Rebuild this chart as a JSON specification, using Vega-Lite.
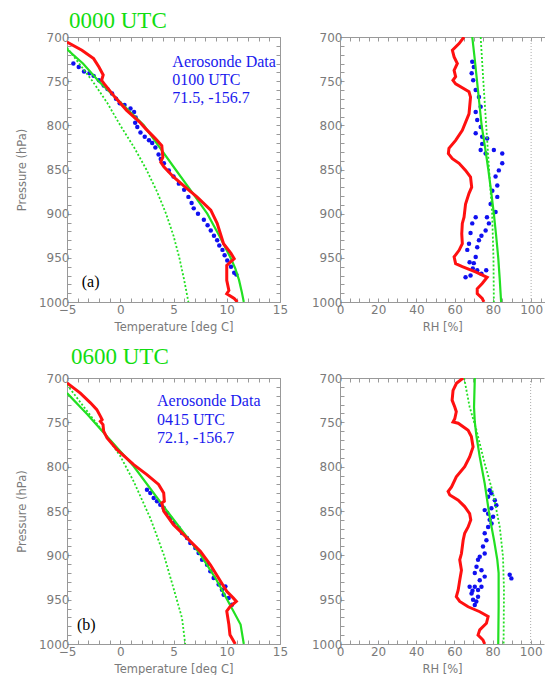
{
"$schema": "https://vega.github.io/schema/vega-lite/v6.json",
"background": "white",
"padding": {"left": 16, "top": 10, "right": 0, "bottom": 0},
"datasets": {
"prof": [
{"panel":"aT","series":"obs","value":-5,"p":705.7},{"panel":"aT","series":"obs","value":-3.6,"p":715},{"panel":"aT","series":"obs","value":-2.5,"p":724.5},{"panel":"aT","series":"obs","value":-2.0,"p":734},{"panel":"aT","series":"obs","value":-1.6,"p":743},{"panel":"aT","series":"obs","value":-1.75,"p":749},{"panel":"aT","series":"obs","value":-1.5,"p":753},{"panel":"aT","series":"obs","value":-0.5,"p":768},{"panel":"aT","series":"obs","value":0.6,"p":783},{"panel":"aT","series":"obs","value":1.8,"p":796},{"panel":"aT","series":"obs","value":2.4,"p":804},{"panel":"aT","series":"obs","value":3.3,"p":815},{"panel":"aT","series":"obs","value":3.9,"p":823},{"panel":"aT","series":"obs","value":4.0,"p":836},{"panel":"aT","series":"obs","value":3.8,"p":841.5},{"panel":"aT","series":"obs","value":4.1,"p":847},{"panel":"aT","series":"obs","value":5.0,"p":858.5},{"panel":"aT","series":"obs","value":6.3,"p":872},{"panel":"aT","series":"obs","value":7.2,"p":881},{"panel":"aT","series":"obs","value":8.5,"p":896},{"panel":"aT","series":"obs","value":9.1,"p":911},{"panel":"aT","series":"obs","value":9.7,"p":934},{"panel":"aT","series":"obs","value":10.4,"p":945},{"panel":"aT","series":"obs","value":10.7,"p":951},{"panel":"aT","series":"obs","value":10.0,"p":958.5},{"panel":"aT","series":"obs","value":10.0,"p":975.5},{"panel":"aT","series":"obs","value":10.2,"p":987},{"panel":"aT","series":"obs","value":10.0,"p":990.6},{"panel":"aT","series":"obs","value":10.7,"p":996},{"panel":"aT","series":"obs","value":11.0,"p":1000},
{"panel":"aT","series":"model","value":-5,"p":714},{"panel":"aT","series":"model","value":-3.5,"p":730},{"panel":"aT","series":"model","value":-2.02,"p":750},{"panel":"aT","series":"model","value":0.1,"p":775},{"panel":"aT","series":"model","value":2.21,"p":800},{"panel":"aT","series":"model","value":3.7,"p":825},{"panel":"aT","series":"model","value":5.19,"p":850},{"panel":"aT","series":"model","value":6.7,"p":875},{"panel":"aT","series":"model","value":8.17,"p":900},{"panel":"aT","series":"model","value":9.3,"p":925},{"panel":"aT","series":"model","value":10.36,"p":950},{"panel":"aT","series":"model","value":10.8,"p":962},{"panel":"aT","series":"model","value":11.15,"p":975},{"panel":"aT","series":"model","value":11.4,"p":988},{"panel":"aT","series":"model","value":11.6,"p":1000},
{"panel":"aT","series":"dew","value":-5,"p":712},{"panel":"aT","series":"dew","value":-2.6,"p":750},{"panel":"aT","series":"dew","value":-1.2,"p":775},{"panel":"aT","series":"dew","value":0.0,"p":800},{"panel":"aT","series":"dew","value":1.3,"p":825},{"panel":"aT","series":"dew","value":2.45,"p":850},{"panel":"aT","series":"dew","value":3.45,"p":875},{"panel":"aT","series":"dew","value":4.3,"p":900},{"panel":"aT","series":"dew","value":5.0,"p":925},{"panel":"aT","series":"dew","value":5.55,"p":950},{"panel":"aT","series":"dew","value":6.0,"p":975},{"panel":"aT","series":"dew","value":6.4,"p":1000},
{"panel":"aT","series":"aero","value":-4.4,"p":730},{"panel":"aT","series":"aero","value":-3.9,"p":734},{"panel":"aT","series":"aero","value":-3.4,"p":739},{"panel":"aT","series":"aero","value":-2.9,"p":741},{"panel":"aT","series":"aero","value":-2.5,"p":744},{"panel":"aT","series":"aero","value":-2.0,"p":749},{"panel":"aT","series":"aero","value":-1.55,"p":755},{"panel":"aT","series":"aero","value":-1.2,"p":759},{"panel":"aT","series":"aero","value":-0.77,"p":764},{"panel":"aT","series":"aero","value":-0.4,"p":770},{"panel":"aT","series":"aero","value":-0.05,"p":775},{"panel":"aT","series":"aero","value":0.4,"p":777},{"panel":"aT","series":"aero","value":0.96,"p":781},{"panel":"aT","series":"aero","value":1.3,"p":785},{"panel":"aT","series":"aero","value":1.45,"p":791},{"panel":"aT","series":"aero","value":1.4,"p":797},{"panel":"aT","series":"aero","value":1.6,"p":802},{"panel":"aT","series":"aero","value":1.9,"p":808},{"panel":"aT","series":"aero","value":2.3,"p":813},{"panel":"aT","series":"aero","value":2.7,"p":817},{"panel":"aT","series":"aero","value":3.0,"p":820},{"panel":"aT","series":"aero","value":3.3,"p":825},{"panel":"aT","series":"aero","value":3.6,"p":833},{"panel":"aT","series":"aero","value":3.8,"p":838},{"panel":"aT","series":"aero","value":4.1,"p":843},{"panel":"aT","series":"aero","value":4.56,"p":851},{"panel":"aT","series":"aero","value":5.0,"p":858},{"panel":"aT","series":"aero","value":5.5,"p":866},{"panel":"aT","series":"aero","value":6.0,"p":873},{"panel":"aT","series":"aero","value":6.4,"p":881},{"panel":"aT","series":"aero","value":6.7,"p":888},{"panel":"aT","series":"aero","value":6.9,"p":894},{"panel":"aT","series":"aero","value":7.3,"p":900},{"panel":"aT","series":"aero","value":7.85,"p":907},{"panel":"aT","series":"aero","value":8.2,"p":913},{"panel":"aT","series":"aero","value":8.5,"p":919},{"panel":"aT","series":"aero","value":8.8,"p":925},{"panel":"aT","series":"aero","value":9.1,"p":930},{"panel":"aT","series":"aero","value":9.3,"p":936},{"panel":"aT","series":"aero","value":9.6,"p":941},{"panel":"aT","series":"aero","value":9.8,"p":947},{"panel":"aT","series":"aero","value":10.05,"p":953},{"panel":"aT","series":"aero","value":10.4,"p":960},{"panel":"aT","series":"aero","value":10.7,"p":967},{"panel":"aT","series":"aero","value":10.9,"p":969},
{"panel":"aRH","series":"obs","value":64.9,"p":700},{"panel":"aRH","series":"obs","value":62.3,"p":707.5},{"panel":"aRH","series":"obs","value":58.8,"p":715},{"panel":"aRH","series":"obs","value":59.7,"p":722.6},{"panel":"aRH","series":"obs","value":61.4,"p":730},{"panel":"aRH","series":"obs","value":59.7,"p":737.7},{"panel":"aRH","series":"obs","value":60.5,"p":745},{"panel":"aRH","series":"obs","value":59.1,"p":749},{"panel":"aRH","series":"obs","value":60.5,"p":753},{"panel":"aRH","series":"obs","value":67.5,"p":762},{"panel":"aRH","series":"obs","value":68.3,"p":768},{"panel":"aRH","series":"obs","value":67.5,"p":787},{"panel":"aRH","series":"obs","value":64,"p":805.7},{"panel":"aRH","series":"obs","value":60.5,"p":817},{"panel":"aRH","series":"obs","value":57,"p":826},{"panel":"aRH","series":"obs","value":56.7,"p":832},{"panel":"aRH","series":"obs","value":58.8,"p":837.7},{"panel":"aRH","series":"obs","value":62.3,"p":843},{"panel":"aRH","series":"obs","value":65.7,"p":851},{"panel":"aRH","series":"obs","value":68.3,"p":858.5},{"panel":"aRH","series":"obs","value":68.9,"p":870},{"panel":"aRH","series":"obs","value":67.5,"p":877},{"panel":"aRH","series":"obs","value":65.7,"p":889},{"panel":"aRH","series":"obs","value":64.9,"p":904},{"panel":"aRH","series":"obs","value":64,"p":911},{"panel":"aRH","series":"obs","value":63.7,"p":922.6},{"panel":"aRH","series":"obs","value":64,"p":934},{"panel":"aRH","series":"obs","value":62.3,"p":941.5},{"panel":"aRH","series":"obs","value":59.7,"p":949},{"panel":"aRH","series":"obs","value":60.5,"p":956.6},{"panel":"aRH","series":"obs","value":64,"p":960},{"panel":"aRH","series":"obs","value":70.9,"p":966},{"panel":"aRH","series":"obs","value":77,"p":972},{"panel":"aRH","series":"obs","value":74.4,"p":979},{"panel":"aRH","series":"obs","value":71.8,"p":985},{"panel":"aRH","series":"obs","value":71.8,"p":990.6},{"panel":"aRH","series":"obs","value":74.4,"p":996},{"panel":"aRH","series":"obs","value":75.3,"p":1000},
{"panel":"aRH","series":"model","value":69.2,"p":700},{"panel":"aRH","series":"model","value":70.5,"p":725},{"panel":"aRH","series":"model","value":71.7,"p":750},{"panel":"aRH","series":"model","value":72.9,"p":775},{"panel":"aRH","series":"model","value":74.1,"p":800},{"panel":"aRH","series":"model","value":75.9,"p":825},{"panel":"aRH","series":"model","value":77.6,"p":850},{"panel":"aRH","series":"model","value":79.1,"p":875},{"panel":"aRH","series":"model","value":80.5,"p":900},{"panel":"aRH","series":"model","value":81.7,"p":925},{"panel":"aRH","series":"model","value":82.8,"p":950},{"panel":"aRH","series":"model","value":83.6,"p":975},{"panel":"aRH","series":"model","value":84.3,"p":1000},
{"panel":"aRH","series":"dew","value":73.6,"p":700},{"panel":"aRH","series":"dew","value":75,"p":750},{"panel":"aRH","series":"dew","value":76.5,"p":800},{"panel":"aRH","series":"dew","value":78,"p":850},{"panel":"aRH","series":"dew","value":79.6,"p":900},{"panel":"aRH","series":"dew","value":80.3,"p":950},{"panel":"aRH","series":"dew","value":80.5,"p":1000},
{"panel":"aRH","series":"aero","value":69.2,"p":728},{"panel":"aRH","series":"aero","value":70,"p":734},{"panel":"aRH","series":"aero","value":68.9,"p":741},{"panel":"aRH","series":"aero","value":69.7,"p":749},{"panel":"aRH","series":"aero","value":71,"p":760},{"panel":"aRH","series":"aero","value":72.7,"p":768},{"panel":"aRH","series":"aero","value":73.6,"p":779},{"panel":"aRH","series":"aero","value":71,"p":785},{"panel":"aRH","series":"aero","value":71.8,"p":794},{"panel":"aRH","series":"aero","value":73.6,"p":802},{"panel":"aRH","series":"aero","value":71,"p":809},{"panel":"aRH","series":"aero","value":74.4,"p":813},{"panel":"aRH","series":"aero","value":77,"p":815},{"panel":"aRH","series":"aero","value":74.4,"p":821},{"panel":"aRH","series":"aero","value":73.6,"p":828},{"panel":"aRH","series":"aero","value":76.2,"p":832},{"panel":"aRH","series":"aero","value":80.5,"p":828},{"panel":"aRH","series":"aero","value":84.9,"p":832},{"panel":"aRH","series":"aero","value":84.9,"p":843},{"panel":"aRH","series":"aero","value":83.1,"p":851},{"panel":"aRH","series":"aero","value":81.4,"p":858},{"panel":"aRH","series":"aero","value":82.3,"p":868},{"panel":"aRH","series":"aero","value":79.7,"p":874},{"panel":"aRH","series":"aero","value":82.3,"p":881},{"panel":"aRH","series":"aero","value":78.8,"p":889},{"panel":"aRH","series":"aero","value":81.4,"p":898},{"panel":"aRH","series":"aero","value":76.9,"p":904},{"panel":"aRH","series":"aero","value":77.9,"p":911},{"panel":"aRH","series":"aero","value":76.2,"p":919},{"panel":"aRH","series":"aero","value":74,"p":925},{"panel":"aRH","series":"aero","value":72.7,"p":930},{"panel":"aRH","series":"aero","value":71.8,"p":938},{"panel":"aRH","series":"aero","value":71,"p":949},{"panel":"aRH","series":"aero","value":70,"p":956},{"panel":"aRH","series":"aero","value":71.8,"p":964},{"panel":"aRH","series":"aero","value":68.3,"p":970},{"panel":"aRH","series":"aero","value":65.7,"p":972},{"panel":"aRH","series":"aero","value":71,"p":904},{"panel":"aRH","series":"aero","value":69.2,"p":911},{"panel":"aRH","series":"aero","value":68.3,"p":922},{"panel":"aRH","series":"aero","value":67.5,"p":934},{"panel":"aRH","series":"aero","value":66.6,"p":941},{"panel":"aRH","series":"aero","value":67.8,"p":955},{"panel":"aRH","series":"aero","value":69.5,"p":962},{"panel":"aRH","series":"aero","value":74,"p":968},{"panel":"aRH","series":"aero","value":76.5,"p":964},
{"panel":"bT","series":"obs","value":-5,"p":705.6},{"panel":"bT","series":"obs","value":-3.75,"p":717},{"panel":"bT","series":"obs","value":-2.8,"p":728},{"panel":"bT","series":"obs","value":-2.2,"p":735.7},{"panel":"bT","series":"obs","value":-1.87,"p":743},{"panel":"bT","series":"obs","value":-1.7,"p":747},{"panel":"bT","series":"obs","value":-1.87,"p":749},{"panel":"bT","series":"obs","value":-1.62,"p":752.6},{"panel":"bT","series":"obs","value":-1.56,"p":760},{"panel":"bT","series":"obs","value":-1.24,"p":767.7},{"panel":"bT","series":"obs","value":-0.3,"p":780.8},{"panel":"bT","series":"obs","value":1.26,"p":797.8},{"panel":"bT","series":"obs","value":2.5,"p":809},{"panel":"bT","series":"obs","value":3.6,"p":820},{"panel":"bT","series":"obs","value":4.08,"p":829.7},{"panel":"bT","series":"obs","value":4.14,"p":839},{"panel":"bT","series":"obs","value":3.9,"p":841},{"panel":"bT","series":"obs","value":4.08,"p":850},{"panel":"bT","series":"obs","value":5.0,"p":865.4},{"panel":"bT","series":"obs","value":6.27,"p":880.5},{"panel":"bT","series":"obs","value":7.52,"p":895.5},{"panel":"bT","series":"obs","value":8.46,"p":910.6},{"panel":"bT","series":"obs","value":9.4,"p":929},{"panel":"bT","series":"obs","value":10.0,"p":940.6},{"panel":"bT","series":"obs","value":10.6,"p":948},{"panel":"bT","series":"obs","value":10.9,"p":952},{"panel":"bT","series":"obs","value":10.3,"p":958},{"panel":"bT","series":"obs","value":10.0,"p":963},{"panel":"bT","series":"obs","value":10.2,"p":978},{"panel":"bT","series":"obs","value":10.3,"p":989.5},{"panel":"bT","series":"obs","value":10.8,"p":1000},
{"panel":"bT","series":"model","value":-5,"p":717},{"panel":"bT","series":"model","value":-3.1,"p":741},{"panel":"bT","series":"model","value":-1.24,"p":766},{"panel":"bT","series":"model","value":1.26,"p":799.6},{"panel":"bT","series":"model","value":4.39,"p":850},{"panel":"bT","series":"model","value":7.52,"p":899},{"panel":"bT","series":"model","value":9.0,"p":927},{"panel":"bT","series":"model","value":10.3,"p":955.7},{"panel":"bT","series":"model","value":11.3,"p":978},{"panel":"bT","series":"model","value":11.6,"p":1000},
{"panel":"bT","series":"dew","value":-5,"p":707.5},{"panel":"bT","series":"dew","value":-3.1,"p":737.6},{"panel":"bT","series":"dew","value":-1.4,"p":764},{"panel":"bT","series":"dew","value":0.0,"p":788},{"panel":"bT","series":"dew","value":1.26,"p":816.6},{"panel":"bT","series":"dew","value":2.82,"p":858},{"panel":"bT","series":"dew","value":4.08,"p":899},{"panel":"bT","series":"dew","value":5.0,"p":937},{"panel":"bT","series":"dew","value":5.8,"p":970.7},{"panel":"bT","series":"dew","value":6.1,"p":1000},
{"panel":"bT","series":"aero","value":2.51,"p":826},{"panel":"bT","series":"aero","value":2.82,"p":829.7},{"panel":"bT","series":"aero","value":3.14,"p":835.4},{"panel":"bT","series":"aero","value":3.45,"p":839},{"panel":"bT","series":"aero","value":3.76,"p":842.9},{"panel":"bT","series":"aero","value":4.08,"p":846.6},{"panel":"bT","series":"aero","value":4.39,"p":852.3},{"panel":"bT","series":"aero","value":4.7,"p":857.9},{"panel":"bT","series":"aero","value":5.02,"p":863.6},{"panel":"bT","series":"aero","value":5.49,"p":869.2},{"panel":"bT","series":"aero","value":5.8,"p":874.8},{"panel":"bT","series":"aero","value":6.27,"p":880.5},{"panel":"bT","series":"aero","value":6.58,"p":886},{"panel":"bT","series":"aero","value":7.05,"p":891.8},{"panel":"bT","series":"aero","value":7.36,"p":897.4},{"panel":"bT","series":"aero","value":7.68,"p":905},{"panel":"bT","series":"aero","value":8.15,"p":910.6},{"panel":"bT","series":"aero","value":8.46,"p":918},{"panel":"bT","series":"aero","value":8.77,"p":925.6},{"panel":"bT","series":"aero","value":9.24,"p":933},{"panel":"bT","series":"aero","value":9.55,"p":938.8},{"panel":"bT","series":"aero","value":9.87,"p":935},{"panel":"bT","series":"aero","value":9.71,"p":944.4},{"panel":"bT","series":"aero","value":10.18,"p":948},{"panel":"bT","series":"aero","value":10.49,"p":955.7},
{"panel":"bRH","series":"obs","value":64.6,"p":700},{"panel":"bRH","series":"obs","value":61.1,"p":706},{"panel":"bRH","series":"obs","value":59.3,"p":714},{"panel":"bRH","series":"obs","value":58.8,"p":725},{"panel":"bRH","series":"obs","value":60.2,"p":732.7},{"panel":"bRH","series":"obs","value":61,"p":738},{"panel":"bRH","series":"obs","value":60.2,"p":746},{"panel":"bRH","series":"obs","value":59.3,"p":749.6},{"panel":"bRH","series":"obs","value":62,"p":751},{"panel":"bRH","series":"obs","value":67.2,"p":759},{"panel":"bRH","series":"obs","value":68.9,"p":766},{"panel":"bRH","series":"obs","value":69.8,"p":777.7},{"panel":"bRH","series":"obs","value":68,"p":789},{"panel":"bRH","series":"obs","value":65.4,"p":800},{"panel":"bRH","series":"obs","value":61,"p":811.5},{"panel":"bRH","series":"obs","value":58.5,"p":822.8},{"panel":"bRH","series":"obs","value":56.7,"p":828},{"panel":"bRH","series":"obs","value":57.6,"p":832},{"panel":"bRH","series":"obs","value":62,"p":837.8},{"panel":"bRH","series":"obs","value":65.4,"p":845},{"panel":"bRH","series":"obs","value":68,"p":853},{"panel":"bRH","series":"obs","value":68.6,"p":860},{"panel":"bRH","series":"obs","value":67.2,"p":868},{"panel":"bRH","series":"obs","value":65.4,"p":875},{"panel":"bRH","series":"obs","value":64.6,"p":883},{"panel":"bRH","series":"obs","value":63.7,"p":898},{"panel":"bRH","series":"obs","value":62.8,"p":905},{"panel":"bRH","series":"obs","value":63.7,"p":916.7},{"panel":"bRH","series":"obs","value":62.8,"p":928},{"panel":"bRH","series":"obs","value":62,"p":939},{"panel":"bRH","series":"obs","value":61,"p":946.7},{"panel":"bRH","series":"obs","value":62.8,"p":952},{"panel":"bRH","series":"obs","value":67.2,"p":958},{"panel":"bRH","series":"obs","value":73.3,"p":963.6},{"panel":"bRH","series":"obs","value":77.7,"p":969},{"panel":"bRH","series":"obs","value":76.8,"p":976.7},{"panel":"bRH","series":"obs","value":73.3,"p":984},{"panel":"bRH","series":"obs","value":72.4,"p":990},{"panel":"bRH","series":"obs","value":75,"p":995.5},{"panel":"bRH","series":"obs","value":75.9,"p":1000},
{"panel":"bRH","series":"model","value":70.7,"p":700},{"panel":"bRH","series":"model","value":70.3,"p":732.7},{"panel":"bRH","series":"model","value":70.7,"p":749.6},{"panel":"bRH","series":"model","value":71.6,"p":766},{"panel":"bRH","series":"model","value":73.3,"p":789},{"panel":"bRH","series":"model","value":75.9,"p":819},{"panel":"bRH","series":"model","value":78.5,"p":856.6},{"panel":"bRH","series":"model","value":80.8,"p":883},{"panel":"bRH","series":"model","value":82.5,"p":905},{"panel":"bRH","series":"model","value":83.2,"p":920},{"panel":"bRH","series":"model","value":83.2,"p":958},{"panel":"bRH","series":"model","value":83.0,"p":1000},
{"panel":"bRH","series":"dew","value":65.1,"p":700},{"panel":"bRH","series":"dew","value":68,"p":732.7},{"panel":"bRH","series":"dew","value":71.6,"p":759},{"panel":"bRH","series":"dew","value":75.9,"p":796.5},{"panel":"bRH","series":"dew","value":80.3,"p":830},{"panel":"bRH","series":"dew","value":83.8,"p":868},{"panel":"bRH","series":"dew","value":85.5,"p":901.6},{"panel":"bRH","series":"dew","value":86,"p":939},{"panel":"bRH","series":"dew","value":85.8,"p":1000},
{"panel":"bRH","series":"aero","value":78.5,"p":826.5},{"panel":"bRH","series":"aero","value":79.4,"p":830},{"panel":"bRH","series":"aero","value":77.7,"p":834},{"panel":"bRH","series":"aero","value":81.2,"p":838},{"panel":"bRH","series":"aero","value":82,"p":843.4},{"panel":"bRH","series":"aero","value":79.4,"p":847},{"panel":"bRH","series":"aero","value":75.9,"p":849},{"panel":"bRH","series":"aero","value":77.7,"p":853},{"panel":"bRH","series":"aero","value":80.3,"p":856.6},{"panel":"bRH","series":"aero","value":78.5,"p":860},{"panel":"bRH","series":"aero","value":79.5,"p":864},{"panel":"bRH","series":"aero","value":77.7,"p":868},{"panel":"bRH","series":"aero","value":75.9,"p":875},{"panel":"bRH","series":"aero","value":76.8,"p":883},{"panel":"bRH","series":"aero","value":75,"p":890},{"panel":"bRH","series":"aero","value":75.9,"p":898},{"panel":"bRH","series":"aero","value":73.3,"p":901.6},{"panel":"bRH","series":"aero","value":72.4,"p":905},{"panel":"bRH","series":"aero","value":71.6,"p":913},{"panel":"bRH","series":"aero","value":70.7,"p":920},{"panel":"bRH","series":"aero","value":74.2,"p":916.7},{"panel":"bRH","series":"aero","value":75.9,"p":924},{"panel":"bRH","series":"aero","value":73.3,"p":928},{"panel":"bRH","series":"aero","value":70.7,"p":935.5},{"panel":"bRH","series":"aero","value":72.4,"p":939},{"panel":"bRH","series":"aero","value":69,"p":943},{"panel":"bRH","series":"aero","value":69.8,"p":950},{"panel":"bRH","series":"aero","value":70.7,"p":956},{"panel":"bRH","series":"aero","value":68,"p":935.5},{"panel":"bRH","series":"aero","value":74.2,"p":935.5},{"panel":"bRH","series":"aero","value":72.4,"p":946.7},{"panel":"bRH","series":"aero","value":89,"p":922},{"panel":"bRH","series":"aero","value":89.9,"p":926},{"panel":"bRH","series":"aero","value":69.5,"p":940},{"panel":"bRH","series":"aero","value":71.5,"p":952}
],
"notes": [
{"panel":"aT","kind":"blue","label":"Aerosonde Data\n0100 UTC\n71.5, -156.7","value":4.89,"p":733.6},
{"panel":"aT","kind":"black","label":"(a)","value":-3.62,"p":982.7},
{"panel":"bT","kind":"blue","label":"Aerosonde Data\n0415 UTC\n72.1, -156.7","value":3.45,"p":731.9},
{"panel":"bT","kind":"black","label":"(b)","value":-4.06,"p":983.9}
]
},
"concat": [
{
"width": 213, "height": 265,
"title": {"text": "0000 UTC", "dx": 2, "offset": -2},
"layer": [
{"data": {"name": "prof"}, "transform": [{"filter": "datum.panel === 'aT' && datum.series === 'aero'"}],
 "mark": {"type": "circle", "size": 20, "opacity": 1, "color": "#1010F0", "clip": true},
 "encoding": {"x": {"field": "value", "type": "quantitative", "scale": {"domain": [-5, 15], "nice": false, "zero": false}, "axis": {"orient": "top", "values": [-5,-4,-3,-2,-1,0,1,2,3,4,5,6,7,8,9,10,11,12,13,14,15], "labels": false, "title": null}},
  "y": {"field": "p", "type": "quantitative", "scale": {"domain": [700, 1000], "reverse": true, "nice": false, "zero": false}, "axis": {"orient": "right", "values": [700,710,720,730,740,750,760,770,780,790,800,810,820,830,840,850,860,870,880,890,900,910,920,930,940,950,960,970,980,990,1000], "labels": false, "title": null}}}},
{"data": {"name": "prof"}, "transform": [{"filter": "datum.panel === 'aT' && datum.series === 'dew'"}],
 "mark": {"type": "line", "color": "#22E022", "strokeWidth": 1.8, "strokeDash": [2, 2], "clip": true},
 "encoding": {"x": {"field": "value", "type": "quantitative", "axis": null}, "y": {"field": "p", "type": "quantitative", "axis": null}, "order": {"field": "p", "type": "quantitative"}}},
{"data": {"name": "prof"}, "transform": [{"filter": "datum.panel === 'aT' && datum.series === 'model'"}],
 "mark": {"type": "line", "color": "#22E022", "strokeWidth": 2.2, "clip": true},
 "encoding": {"x": {"field": "value", "type": "quantitative", "axis": null}, "y": {"field": "p", "type": "quantitative", "axis": null}, "order": {"field": "p", "type": "quantitative"}}},
{"data": {"name": "prof"}, "transform": [{"filter": "datum.panel === 'aT' && datum.series === 'obs'"}],
 "mark": {"type": "line", "color": "#FF1010", "strokeWidth": 3, "clip": true},
 "encoding": {"x": {"field": "value", "type": "quantitative", "axis": {"orient": "bottom", "values": [-5,-4,-3,-2,-1,0,1,2,3,4,5,6,7,8,9,10,11,12,13,14,15], "labelExpr": "datum.value % 5 === 0 ? datum.label : ''", "title": "Temperature [deg C]"}},
  "y": {"field": "p", "type": "quantitative", "axis": {"orient": "left", "values": [700,710,720,730,740,750,760,770,780,790,800,810,820,830,840,850,860,870,880,890,900,910,920,930,940,950,960,970,980,990,1000], "labelExpr": "datum.value % 50 === 0 ? datum.label : ''", "title": "Pressure (hPa)", "titlePadding": 11}}, "order": {"field": "p", "type": "quantitative"}}},
{"data": {"name": "notes"}, "transform": [{"filter": "datum.panel === 'aT' && datum.kind === 'blue'"}],
 "mark": {"type": "text", "align": "left", "baseline": "alphabetic", "font": "Liberation Serif", "fontSize": 16, "lineBreak": "\n", "lineHeight": 18.4, "color": "#1a1aee"},
 "encoding": {"x": {"field": "value", "type": "quantitative", "axis": null}, "y": {"field": "p", "type": "quantitative", "axis": null}, "text": {"field": "label"}}},
{"data": {"name": "notes"}, "transform": [{"filter": "datum.panel === 'aT' && datum.kind === 'black'"}],
 "mark": {"type": "text", "align": "left", "baseline": "alphabetic", "font": "Liberation Serif", "fontSize": 16, "color": "#000000"},
 "encoding": {"x": {"field": "value", "type": "quantitative", "axis": null}, "y": {"field": "p", "type": "quantitative", "axis": null}, "text": {"field": "label"}}}
],
"resolve": {"axis": {"x": "independent", "y": "independent"}}
},
{
"width": 204.5, "height": 265,
"layer": [
{"data": {"values": [{}]}, "mark": {"type": "rule", "color": "#aaaaaa", "strokeWidth": 1, "strokeDash": [1, 2]},
 "encoding": {"x": {"datum": 100, "type": "quantitative", "scale": {"domain": [0, 107], "nice": false, "zero": false}, "axis": null}}},
{"data": {"name": "prof"}, "transform": [{"filter": "datum.panel === 'aRH' && datum.series === 'aero'"}],
 "mark": {"type": "circle", "size": 20, "opacity": 1, "color": "#1010F0", "clip": true},
 "encoding": {"x": {"field": "value", "type": "quantitative", "scale": {"domain": [0, 107], "nice": false, "zero": false}, "axis": {"orient": "top", "values": [0,5,10,15,20,25,30,35,40,45,50,55,60,65,70,75,80,85,90,95,100,105], "labels": false, "title": null}},
  "y": {"field": "p", "type": "quantitative", "scale": {"domain": [700, 1000], "reverse": true, "nice": false, "zero": false}, "axis": null}}},
{"data": {"name": "prof"}, "transform": [{"filter": "datum.panel === 'aRH' && datum.series === 'dew'"}],
 "mark": {"type": "line", "color": "#22E022", "strokeWidth": 1.8, "strokeDash": [2, 2], "clip": true},
 "encoding": {"x": {"field": "value", "type": "quantitative", "axis": null}, "y": {"field": "p", "type": "quantitative", "axis": null}, "order": {"field": "p", "type": "quantitative"}}},
{"data": {"name": "prof"}, "transform": [{"filter": "datum.panel === 'aRH' && datum.series === 'model'"}],
 "mark": {"type": "line", "color": "#22E022", "strokeWidth": 2.2, "clip": true},
 "encoding": {"x": {"field": "value", "type": "quantitative", "axis": null}, "y": {"field": "p", "type": "quantitative", "axis": null}, "order": {"field": "p", "type": "quantitative"}}},
{"data": {"name": "prof"}, "transform": [{"filter": "datum.panel === 'aRH' && datum.series === 'obs'"}],
 "mark": {"type": "line", "color": "#FF1010", "strokeWidth": 3, "clip": true},
 "encoding": {"x": {"field": "value", "type": "quantitative", "axis": {"orient": "bottom", "values": [0,5,10,15,20,25,30,35,40,45,50,55,60,65,70,75,80,85,90,95,100,105], "labelExpr": "datum.value % 20 === 0 ? datum.label : ''", "title": "RH [%]"}},
  "y": {"field": "p", "type": "quantitative", "axis": {"orient": "left", "values": [700,710,720,730,740,750,760,770,780,790,800,810,820,830,840,850,860,870,880,890,900,910,920,930,940,950,960,970,980,990,1000], "labelExpr": "datum.value % 50 === 0 ? datum.label : ''", "title": null}}, "order": {"field": "p", "type": "quantitative"}}}
],
"resolve": {"axis": {"x": "independent", "y": "independent"}}
},
{
"width": 213, "height": 266,
"title": {"text": "0600 UTC", "dx": 4, "offset": 3},
"layer": [
{"data": {"name": "prof"}, "transform": [{"filter": "datum.panel === 'bT' && datum.series === 'aero'"}],
 "mark": {"type": "circle", "size": 20, "opacity": 1, "color": "#1010F0", "clip": true},
 "encoding": {"x": {"field": "value", "type": "quantitative", "scale": {"domain": [-5, 15], "nice": false, "zero": false}, "axis": {"orient": "top", "values": [-5,-4,-3,-2,-1,0,1,2,3,4,5,6,7,8,9,10,11,12,13,14,15], "labels": false, "title": null}},
  "y": {"field": "p", "type": "quantitative", "scale": {"domain": [700, 1000], "reverse": true, "nice": false, "zero": false}, "axis": {"orient": "right", "values": [700,710,720,730,740,750,760,770,780,790,800,810,820,830,840,850,860,870,880,890,900,910,920,930,940,950,960,970,980,990,1000], "labels": false, "title": null}}}},
{"data": {"name": "prof"}, "transform": [{"filter": "datum.panel === 'bT' && datum.series === 'dew'"}],
 "mark": {"type": "line", "color": "#22E022", "strokeWidth": 1.8, "strokeDash": [2, 2], "clip": true},
 "encoding": {"x": {"field": "value", "type": "quantitative", "axis": null}, "y": {"field": "p", "type": "quantitative", "axis": null}, "order": {"field": "p", "type": "quantitative"}}},
{"data": {"name": "prof"}, "transform": [{"filter": "datum.panel === 'bT' && datum.series === 'model'"}],
 "mark": {"type": "line", "color": "#22E022", "strokeWidth": 2.2, "clip": true},
 "encoding": {"x": {"field": "value", "type": "quantitative", "axis": null}, "y": {"field": "p", "type": "quantitative", "axis": null}, "order": {"field": "p", "type": "quantitative"}}},
{"data": {"name": "prof"}, "transform": [{"filter": "datum.panel === 'bT' && datum.series === 'obs'"}],
 "mark": {"type": "line", "color": "#FF1010", "strokeWidth": 3, "clip": true},
 "encoding": {"x": {"field": "value", "type": "quantitative", "axis": {"orient": "bottom", "values": [-5,-4,-3,-2,-1,0,1,2,3,4,5,6,7,8,9,10,11,12,13,14,15], "labelExpr": "datum.value % 5 === 0 ? datum.label : ''", "title": "Temperature [deg C]"}},
  "y": {"field": "p", "type": "quantitative", "axis": {"orient": "left", "values": [700,710,720,730,740,750,760,770,780,790,800,810,820,830,840,850,860,870,880,890,900,910,920,930,940,950,960,970,980,990,1000], "labelExpr": "datum.value % 50 === 0 ? datum.label : ''", "title": "Pressure (hPa)", "titlePadding": 11}}, "order": {"field": "p", "type": "quantitative"}}},
{"data": {"name": "notes"}, "transform": [{"filter": "datum.panel === 'bT' && datum.kind === 'blue'"}],
 "mark": {"type": "text", "align": "left", "baseline": "alphabetic", "font": "Liberation Serif", "fontSize": 16, "lineBreak": "\n", "lineHeight": 18.4, "color": "#1a1aee"},
 "encoding": {"x": {"field": "value", "type": "quantitative", "axis": null}, "y": {"field": "p", "type": "quantitative", "axis": null}, "text": {"field": "label"}}},
{"data": {"name": "notes"}, "transform": [{"filter": "datum.panel === 'bT' && datum.kind === 'black'"}],
 "mark": {"type": "text", "align": "left", "baseline": "alphabetic", "font": "Liberation Serif", "fontSize": 16, "color": "#000000"},
 "encoding": {"x": {"field": "value", "type": "quantitative", "axis": null}, "y": {"field": "p", "type": "quantitative", "axis": null}, "text": {"field": "label"}}}
],
"resolve": {"axis": {"x": "independent", "y": "independent"}}
},
{
"width": 204, "height": 266,
"layer": [
{"data": {"values": [{}]}, "mark": {"type": "rule", "color": "#aaaaaa", "strokeWidth": 1, "strokeDash": [1, 2]},
 "encoding": {"x": {"datum": 100, "type": "quantitative", "scale": {"domain": [0, 107], "nice": false, "zero": false}, "axis": null}}},
{"data": {"name": "prof"}, "transform": [{"filter": "datum.panel === 'bRH' && datum.series === 'aero'"}],
 "mark": {"type": "circle", "size": 20, "opacity": 1, "color": "#1010F0", "clip": true},
 "encoding": {"x": {"field": "value", "type": "quantitative", "scale": {"domain": [0, 107], "nice": false, "zero": false}, "axis": {"orient": "top", "values": [0,5,10,15,20,25,30,35,40,45,50,55,60,65,70,75,80,85,90,95,100,105], "labels": false, "title": null}},
  "y": {"field": "p", "type": "quantitative", "scale": {"domain": [700, 1000], "reverse": true, "nice": false, "zero": false}, "axis": null}}},
{"data": {"name": "prof"}, "transform": [{"filter": "datum.panel === 'bRH' && datum.series === 'dew'"}],
 "mark": {"type": "line", "color": "#22E022", "strokeWidth": 1.8, "strokeDash": [2, 2], "clip": true},
 "encoding": {"x": {"field": "value", "type": "quantitative", "axis": null}, "y": {"field": "p", "type": "quantitative", "axis": null}, "order": {"field": "p", "type": "quantitative"}}},
{"data": {"name": "prof"}, "transform": [{"filter": "datum.panel === 'bRH' && datum.series === 'model'"}],
 "mark": {"type": "line", "color": "#22E022", "strokeWidth": 2.2, "clip": true},
 "encoding": {"x": {"field": "value", "type": "quantitative", "axis": null}, "y": {"field": "p", "type": "quantitative", "axis": null}, "order": {"field": "p", "type": "quantitative"}}},
{"data": {"name": "prof"}, "transform": [{"filter": "datum.panel === 'bRH' && datum.series === 'obs'"}],
 "mark": {"type": "line", "color": "#FF1010", "strokeWidth": 3, "clip": true},
 "encoding": {"x": {"field": "value", "type": "quantitative", "axis": {"orient": "bottom", "values": [0,5,10,15,20,25,30,35,40,45,50,55,60,65,70,75,80,85,90,95,100,105], "labelExpr": "datum.value % 20 === 0 ? datum.label : ''", "title": "RH [%]"}},
  "y": {"field": "p", "type": "quantitative", "axis": {"orient": "left", "values": [700,710,720,730,740,750,760,770,780,790,800,810,820,830,840,850,860,870,880,890,900,910,920,930,940,950,960,970,980,990,1000], "labelExpr": "datum.value % 50 === 0 ? datum.label : ''", "title": null}}, "order": {"field": "p", "type": "quantitative"}}}
],
"resolve": {"axis": {"x": "independent", "y": "independent"}}
}
],
"columns": 2,
"spacing": {"row": 76, "column": 60},
"bounds": "flush",
"config": {
"view": {"stroke": null},
"title": {"font": "Liberation Serif", "fontSize": 23, "fontWeight": "normal", "color": "#11DD11", "anchor": "start", "frame": "group"},
"axis": {"grid": false, "domainColor": "#999999", "tickColor": "#999999", "labelColor": "#7a7a7a", "labelFont": "DejaVu Sans", "labelFontSize": 12, "titleFont": "DejaVu Sans", "titleFontSize": 11.5, "titleFontWeight": "normal", "titleColor": "#7a7a7a", "tickSize": -4, "titlePadding": 6, "format": "d", "labelFlush": false, "labelOverlap": false, "domainWidth": 1, "tickWidth": 1},
"axisX": {"labelPadding": 6},
"axisY": {"labelPadding": 2}
}
}
